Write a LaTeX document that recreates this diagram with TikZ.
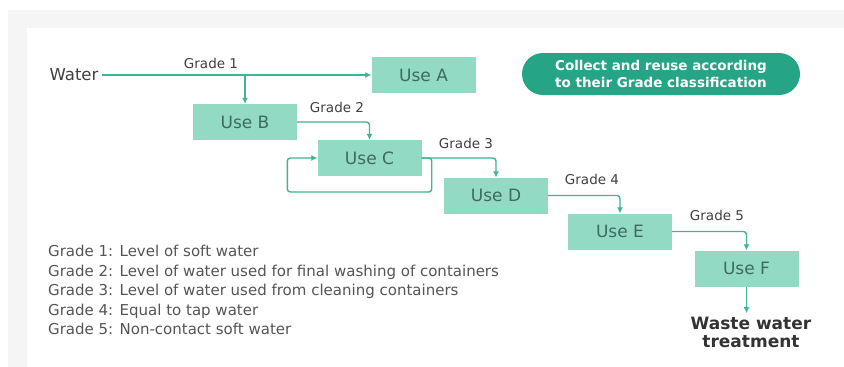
\documentclass[tikz,border=0pt]{standalone}
\usepackage{fontspec}
\setmainfont{DejaVu Sans}
\usetikzlibrary{positioning,arrows.meta}

\definecolor{boxfill}{HTML}{93DAC5}
\definecolor{pipe}{HTML}{3DB596}
\definecolor{pillfill}{HTML}{25A585}
\definecolor{boxtext}{HTML}{3C6B60}
\definecolor{legtext}{HTML}{555555}

\begin{document}
\begin{tikzpicture}[
    x=1pt, y=-1pt,
    use/.style={fill=boxfill, minimum width=104pt, minimum height=36pt,
                inner sep=0pt, text=boxtext, font=\fontsize{17}{19}\selectfont},
    grade/.style={font=\fontsize{13.5}{15}\selectfont, text=black!75},
    flow/.style={-{Latex[length=6pt,width=6pt]}, pipe, line width=1.4pt,
                 rounded corners=3pt},
  ]
  \useasboundingbox (0,0) rectangle (844,367);

  % --- Panel --------------------------------------------------------------
  \fill[black!4] (8,10) rectangle (844,367);
  \fill[white] (27,28) rectangle (844,367);

  % --- Source and uses ----------------------------------------------------
  \node[font=\fontsize{16.5}{18}\selectfont, text=black!75] (water) at (74,75) {Water};
  \node[use] (useA) at (423.5,75) {Use A};
  \node[use] (useB) at (245,122) {Use B};
  \node[use] (useC) at (369.5,158) {Use C};
  \node[use] (useD) at (496,195.5) {Use D};
  \node[use] (useE) at (620,231.5) {Use E};
  \node[use] (useF) at (746.5,268.5) {Use F};
  \node[align=center, text=black!80, font=\fontsize{17}{18}\selectfont\bfseries]
    (waste) at (751,332) {Waste water\\treatment};

  % --- Grade labels -------------------------------------------------------
  \node[grade] (g1) at (211,63) {Grade 1};
  \node[grade] (g2) at (337,107) {Grade 2};
  \node[grade] (g3) at (466,143) {Grade 3};
  \node[grade] (g4) at (592,179) {Grade 4};
  \node[grade] (g5) at (717,215) {Grade 5};

  % --- Note ---------------------------------------------------------------
  \node[fill=pillfill, rounded corners=21pt, minimum width=278pt,
        minimum height=42pt, align=center, text=white, inner sep=0pt,
        font=\fontsize{13.5}{17}\selectfont\bfseries] (note) at (661,74)
    {Collect and reuse according\\to their Grade classification};

  % --- Legend -------------------------------------------------------------
  \node[anchor=north west, align=left, text=legtext, inner sep=0pt,
        font=\fontsize{15}{19.5}\selectfont] (legend) at (48,245)
    {Grade 1: Level of soft water\\
     Grade 2: Level of water used for final washing of containers\\
     Grade 3: Level of water used from cleaning containers\\
     Grade 4: Equal to tap water\\
     Grade 5: Non-contact soft water};

  % --- Arrows -------------------------------------------------------------
  \draw[flow] (water) -- (useA);
  \draw[flow] (useB |- water) -- (useB);
  \draw[flow] (useB.east) -| (useC.north);
  \draw[flow] (useC.east) -- ++(10,0) -| (useD.north);
  \draw[flow] (useC.east) -- ++(10,0) -- ++(0,34) -| ([xshift=-30]useC.west)
    -- (useC.west);
  \draw[flow] (useD.east) -| (useE.north);
  \draw[flow] (useE.east) -| (useF.north);
  \draw[flow] (useF) -- (useF |- waste.north);

\end{tikzpicture}
\end{document}
